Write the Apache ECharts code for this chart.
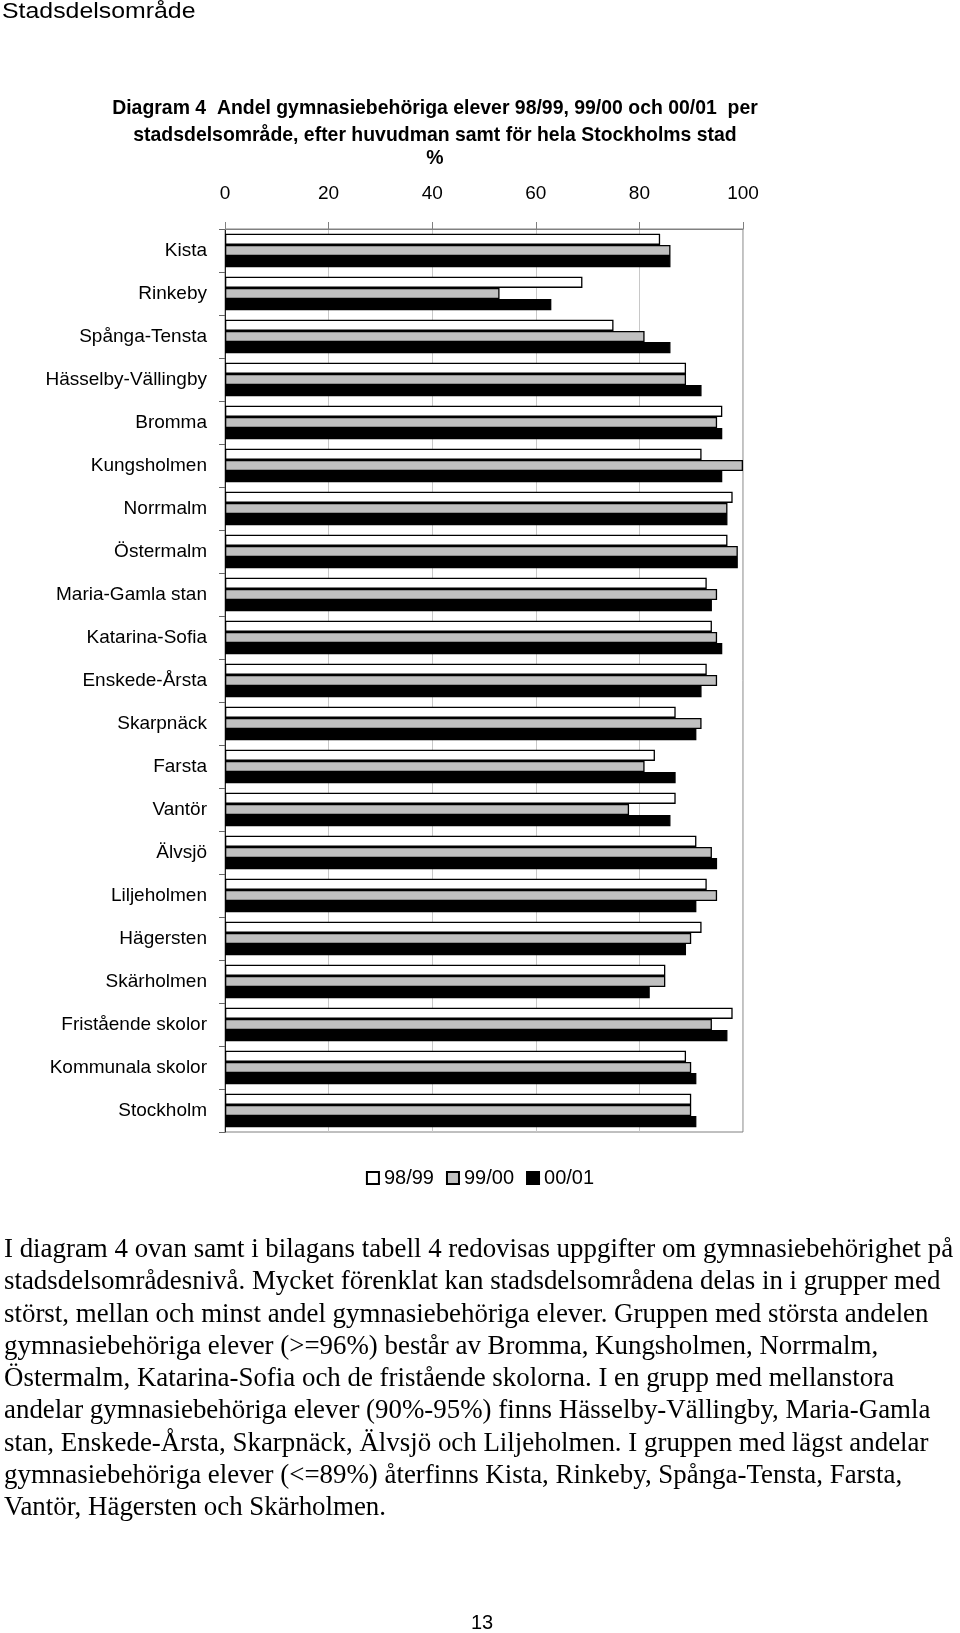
<!DOCTYPE html>
<html>
<head>
<meta charset="utf-8">
<script src="https://cdn.jsdelivr.net/npm/echarts@6/dist/echarts.min.js"></script>
<style>
html,body{margin:0;padding:0;background:#fff;}
#c{width:960px;height:1633px;}
</style>
</head>
<body>
<div id="c"></div>
<script>
const categories = ["Kista","Rinkeby","Spånga-Tensta","Hässelby-Vällingby","Bromma","Kungsholmen","Norrmalm","Östermalm","Maria-Gamla stan","Katarina-Sofia","Enskede-Årsta","Skarpnäck","Farsta","Vantör","Älvsjö","Liljeholmen","Hägersten","Skärholmen","Fristående skolor","Kommunala skolor","Stockholm"];
const s9899 = [84,69,75,89,96,92,98,97,93,94,93,87,83,87,91,93,92,85,98,89,90];
const s9900 = [86,53,81,89,95,100,97,99,95,95,95,92,81,78,94,95,90,85,94,90,90];
const s0001 = [86,63,86,92,96,96,97,99,94,96,92,91,87,86,95,91,89,82,97,91,91];
const seriesNames = ["98/99","99/00","00/01"];
const xMin = 0, xMax = 100, xStep = 20;

const header = "Stadsdelsområde";
const titleLines = ["Diagram 4  Andel gymnasiebehöriga elever 98/99, 99/00 och 00/01  per","stadsdelsområde, efter huvudman samt för hela Stockholms stad","%"];
const bodyLines = [
"I diagram 4 ovan samt i bilagans tabell 4 redovisas uppgifter om gymnasiebehörighet på",
"stadsdelsområdesnivå. Mycket förenklat kan stadsdelsområdena delas in i grupper med",
"störst, mellan och minst andel gymnasiebehöriga elever. Gruppen med största andelen",
"gymnasiebehöriga elever (>=96%) består av Bromma, Kungsholmen, Norrmalm,",
"Östermalm, Katarina-Sofia och de fristående skolorna. I en grupp med mellanstora",
"andelar gymnasiebehöriga elever (90%-95%) finns Hässelby-Vällingby, Maria-Gamla",
"stan, Enskede-Årsta, Skarpnäck, Älvsjö och Liljeholmen. I gruppen med lägst andelar",
"gymnasiebehöriga elever (<=89%) återfinns Kista, Rinkeby, Spånga-Tensta, Farsta,",
"Vantör, Hägersten och Skärholmen."
];
const pageNumber = "13";

const SANS = '"Liberation Sans", Arial, sans-serif';
const SERIF = '"Liberation Serif", "Times New Roman", serif';

const graphics = [];
graphics.push({type:'text', x:2, y:12, scaleX:1.13, style:{text:header, fontSize:22, fontFamily:SANS, fill:'#000', textAlign:'left', textVerticalAlign:'middle'}});
const titleY = [108, 135, 158];
titleLines.forEach((t,i)=>{
  graphics.push({type:'text', x:435, y:titleY[i], scaleX:0.925, style:{text:t, fontSize:21, fontWeight:'bold', fontFamily:SANS, fill:'#000', textAlign:'center', textVerticalAlign:'middle'}});
});
bodyLines.forEach((t,i)=>{
  graphics.push({type:'text', x:4, y:1250 + i*32.27, style:{text:t, fontSize:26.9, fontFamily:SERIF, fill:'#000', textAlign:'left', textVerticalAlign:'middle'}});
});
graphics.push({type:'text', x:482, y:1623, style:{text:pageNumber, fontSize:20, fontFamily:SANS, fill:'#000', textAlign:'center', textVerticalAlign:'middle'}});

const colors = ['#ffffff','#c0c0c0','#000000'];
const seriesData = [s9899, s9900, s0001];

const chart = echarts.init(document.getElementById('c'), null, {renderer:'canvas'});
chart.setOption({
  animation:false,
  backgroundColor:'#fff',
  textStyle:{fontFamily:SANS, color:'#000'},
  grid:{left:225, right:217, top:229, bottom:501, show:true, borderColor:'#808080', borderWidth:1, containLabel:false},
  legend:{
    data:seriesNames, top:1163, left:'center', icon:'rect', itemWidth:12, itemHeight:12, itemGap:12,
    textStyle:{fontSize:20, color:'#000', fontFamily:SANS}
  },
  xAxis:{
    type:'value', position:'top', min:xMin, max:xMax, interval:xStep,
    axisLine:{show:true, lineStyle:{color:'#808080', width:1}},
    axisTick:{show:true, inside:false, length:7, lineStyle:{color:'#808080'}},
    axisLabel:{fontSize:19, color:'#000', margin:26, fontFamily:SANS},
    splitLine:{show:true, lineStyle:{color:'#c8c8c8', width:1}}
  },
  yAxis:{
    type:'category', data:categories, inverse:true,
    axisLine:{show:true, lineStyle:{color:'#222', width:1}},
    axisTick:{show:true, inside:false, length:6, interval:0, lineStyle:{color:'#666'}},
    axisLabel:{fontSize:19, color:'#000', margin:18, fontFamily:SANS, interval:0},
    splitLine:{show:false}
  },
  graphic:graphics,
  series: seriesNames.map((n,i)=>({
    name:n, type:'bar', data:seriesData[i], barGap:'0%', barCategoryGap:'22%',
    itemStyle:{color:colors[i], borderColor:'#000', borderWidth:1.3},
    emphasis:{disabled:true}
  }))
});
</script>
</body>
</html>
